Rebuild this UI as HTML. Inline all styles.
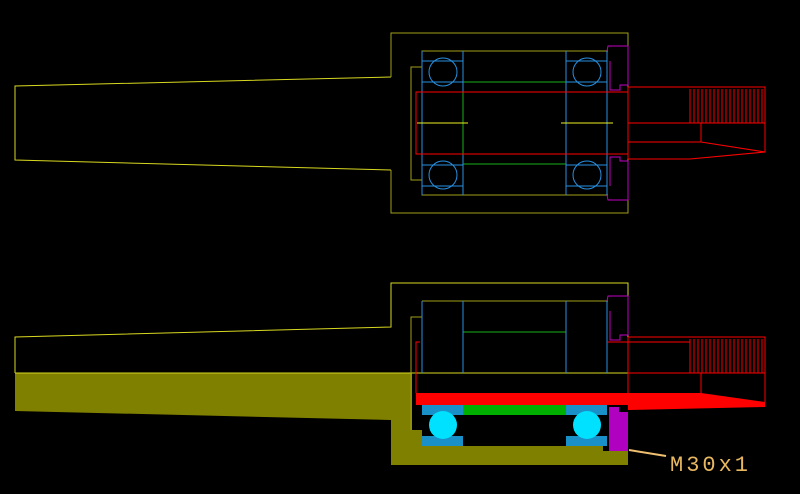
<!DOCTYPE html>
<html><head><style>html,body{margin:0;padding:0;background:#000;}svg{display:block}</style></head>
<body>
<svg width="800" height="494" viewBox="0 0 800 494" xmlns="http://www.w3.org/2000/svg" fill="none" stroke-width="1">
<rect width="800" height="494" fill="#000"/>
<!-- ===== TOP VIEW ===== -->
<g>
<polyline points="391,77 15,86 15,160 391,170" stroke="#d8d820"/>
<polyline points="391,77 391,33 628,33 628,213 391,213 391,170" stroke="#a0a018"/>
<polyline points="422,67 411,67 411,180 422,180" stroke="#a0a018"/>
<polyline points="608,51 422,51 422,195 608,195" stroke="#a0a018"/>
<g stroke="#2890e0">
<line x1="422" y1="51" x2="422" y2="195"/><line x1="463" y1="51" x2="463" y2="92"/><line x1="463" y1="155" x2="463" y2="195"/>
<line x1="566" y1="51" x2="566" y2="195"/><line x1="607" y1="51" x2="607" y2="195"/>
<line x1="422" y1="61" x2="463" y2="61"/><line x1="422" y1="82" x2="463" y2="82"/>
<line x1="566" y1="61" x2="607" y2="61"/><line x1="566" y1="82" x2="607" y2="82"/>
<line x1="422" y1="165" x2="463" y2="165"/><line x1="422" y1="186" x2="463" y2="186"/>
<line x1="566" y1="165" x2="607" y2="165"/><line x1="566" y1="186" x2="607" y2="186"/>
<circle cx="443" cy="72" r="14"/><circle cx="587" cy="72" r="14"/>
<circle cx="443" cy="175" r="14"/><circle cx="587" cy="175" r="14"/>
</g>
<g stroke="#18b018">
<line x1="463" y1="82" x2="566" y2="82"/><line x1="463" y1="164" x2="566" y2="164"/>
<line x1="463" y1="92" x2="463" y2="155"/>
</g>
<g stroke="#ff0000">
<rect x="416" y="92" width="212" height="62"/>
<polyline points="628,87 690,87"/><polyline points="628,159 690,159"/>
<line x1="628" y1="87" x2="628" y2="159"/>
<line x1="628" y1="123" x2="765" y2="123"/>
<polyline points="628,142 701,142 765,152"/>
<line x1="701" y1="123" x2="701" y2="142"/>
<polyline points="690,87 765,87 765,152 690,159"/>
<path d="M690,89 v34 M694,89 v34 M698,89 v34 M702,89 v34 M706,89 v34 M710,89 v34 M714,89 v34 M718,89 v34 M722,89 v34 M726,89 v34 M730,89 v34 M734,89 v34 M738,89 v34 M742,89 v34 M746,89 v34 M750,89 v34 M754,89 v34 M758,89 v34 M762,89 v34"/>
</g>
<g stroke="#f0f020">
<line x1="417" y1="123" x2="468" y2="123"/><line x1="561" y1="123" x2="613" y2="123"/>
</g>
<g stroke="#c000c0">
<polyline points="607,51 608,46 628,46 628,85 620,85 620,90 610,90 610,61"/>
<polyline points="607,195 608,200 628,200 628,161 620,161 620,157 610,157 610,186"/>
</g>
</g>
<!-- ===== BOTTOM VIEW ===== -->
<g>
<path d="M15,373 L412,373 L412,430 L422,430 L422,446 L603,446 L603,451 L628,451 L628,465 L391,465 L391,420 L15,411 Z" fill="#808000"/>
<polyline points="15,373 15,337 391,327 391,283 628,283 628,373" stroke="#d8d820"/>
<line x1="15" y1="373" x2="628" y2="373" stroke="#d8d820"/>
<polyline points="422,317 411,317 411,430" stroke="#a0a018"/>
<line x1="422" y1="301" x2="608" y2="301" stroke="#a0a018"/>
<g stroke="#2890e0">
<line x1="422" y1="301" x2="422" y2="373"/><line x1="463" y1="301" x2="463" y2="373"/>
<line x1="566" y1="301" x2="566" y2="373"/><line x1="607" y1="301" x2="607" y2="373"/>
</g>
<line x1="463" y1="332" x2="566" y2="332" stroke="#18b018"/>
<g stroke="#c000c0"><polyline points="607,301 608,296 628,296 628,335 620,335 620,340 610,340 610,311"/></g>
<g stroke="#ff0000">
<polyline points="416,393 416,342 420,342"/>
<polyline points="607,342 628,342 690,342"/>
<line x1="628" y1="337" x2="628" y2="393"/>
<polyline points="628,337 765,337 765,402"/>
<line x1="628" y1="373" x2="765" y2="373"/>
<line x1="701" y1="373" x2="701" y2="393"/>
<path d="M690,339 v34 M694,339 v34 M698,339 v34 M702,339 v34 M706,339 v34 M710,339 v34 M714,339 v34 M718,339 v34 M722,339 v34 M726,339 v34 M730,339 v34 M734,339 v34 M738,339 v34 M742,339 v34 M746,339 v34 M750,339 v34 M754,339 v34 M758,339 v34 M762,339 v34"/>
</g>
<polygon points="416,393 701,393 765,402 765,407 628,410 628,405 416,405" fill="#ff0000"/>
<rect x="422" y="405" width="41" height="41" fill="#1a90c8"/>
<rect x="566" y="405" width="41" height="41" fill="#1a90c8"/>
<rect x="422" y="415" width="41" height="21" fill="#000"/>
<rect x="566" y="415" width="41" height="21" fill="#000"/>
<circle cx="443" cy="425" r="14" fill="#00e0ff"/>
<circle cx="587" cy="425" r="14" fill="#00e0ff"/>
<rect x="463" y="405" width="103" height="10" fill="#00b000"/>
<polygon points="609,407 619,407 619,412 628,412 628,451 609,451" fill="#b000c0"/>
<line x1="629" y1="450" x2="666" y2="456" stroke="#f0c070" stroke-width="2"/>
<text x="670" y="471" fill="#e8b860" font-family="Liberation Mono, monospace" font-size="22" letter-spacing="3">M30x1</text>
</g>
</svg>
</body></html>
